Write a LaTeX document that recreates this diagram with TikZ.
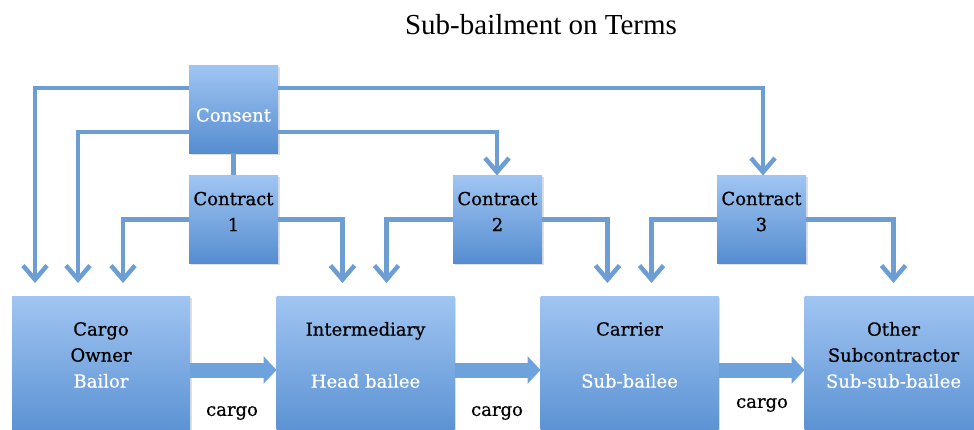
\documentclass[tikz,border=0pt]{standalone}
\usepackage{fontspec}
\setmainfont{DejaVu Serif}[RawFeature={embolden=0.7}]
\newfontfamily\titlefont{Liberation Serif}
\usetikzlibrary{arrows.meta,shadows,calc}
\definecolor{boxtop}{HTML}{A0C5F2}
\definecolor{boxbot}{HTML}{558DD0}
\definecolor{linec}{HTML}{6C9ED3}
\definecolor{cargoc}{HTML}{6EA2DC}
\tikzset{
  bbox/.style={draw=none, top color=boxtop, bottom color=boxbot,
    drop shadow={opacity=0.25, shadow xshift=1.5pt, shadow yshift=-1.5pt},
    inner sep=0pt, outer sep=0pt},
  smallbox/.style={bbox, minimum width=89pt, minimum height=88pt},
  bigbox/.style={bbox, minimum width=178pt, minimum height=148pt},
  btext/.style={font=\fontsize{18}{26}\selectfont, align=center, inner sep=0pt},
  conn/.style={draw=linec, line width=4.5pt,
    -{Straight Barb[length=14pt,width=24pt,line width=4.5pt]}},
  plainconn/.style={draw=linec, line width=4.5pt},
  cargoarrow/.style={draw=cargoc, line width=15pt,
    -{Triangle[length=13pt,width=27pt]}},
  lbl/.style={font=\fontsize{18}{22}\selectfont, inner sep=0pt}
}
\begin{document}
\begin{tikzpicture}[x=1pt,y=-1pt]
\useasboundingbox (0,0) rectangle (974,430);
\node[anchor=base, font=\titlefont\fontsize{29}{32}\selectfont] (title) at (541,35) {Sub-bailment on Terms};

% boxes
\node[smallbox] (cons) at (233.5,109.5) {};
\node[smallbox] (c1) at (233.5,219.5) {};
\node[smallbox] (c2) at (497.5,219.5) {};
\node[smallbox] (c3) at (761.5,219.5) {};
\node[bigbox] (co) at (101,370) {};
\node[bigbox] (im) at (365.5,370) {};
\node[bigbox] (ca) at (629.5,370) {};
\node[bigbox] (ot) at (893.5,370) {};

% connectors
\draw[conn] ([yshift=21.5pt]cons.west) -| ([xshift=23pt,yshift=13pt]co.north west);
\draw[conn] ([yshift=-22.5pt]cons.west) -| ([xshift=66pt,yshift=13pt]co.north west);
\draw[conn] ([yshift=21.5pt]cons.east) -| ([xshift=1.5pt]c3.north);
\draw[conn] ([yshift=-22.5pt]cons.east) -| ([xshift=-0.5pt]c2.north);
\draw[plainconn] (cons.south) -- (c1.north);
\draw[conn] (c1.west) -| ([xshift=111pt,yshift=13pt]co.north west);
\draw[conn] (c1.east) -| ([xshift=66pt,yshift=13pt]im.north west);
\draw[conn] (c2.west) -| ([xshift=110pt,yshift=13pt]im.north west);
\draw[conn] (c2.east) -| ([xshift=67pt,yshift=13pt]ca.north west);
\draw[conn] (c3.west) -| ([xshift=111pt,yshift=13pt]ca.north west);
\draw[conn] (c3.east) -| ([xshift=89pt,yshift=13pt]ot.north west);

% cargo arrows
\draw[cargoarrow] (co.east) -- (im.west);
\draw[cargoarrow] (im.east) -- (ca.west);
\draw[cargoarrow] (ca.east) -- (ot.west);

% texts
\node[btext, text=white] (tcons) at (233.5,115) {Consent};
\node[btext] (tc1) at (233.5,211.5) {Contract\\1};
\node[btext] (tc2) at (497.5,211.5) {Contract\\2};
\node[btext] (tc3) at (761.5,211.5) {Contract\\3};
\node[btext] (tco) at (101,355) {Cargo\\Owner\\\textcolor{white}{Bailor}};
\node[btext] (tim) at (365.5,355) {Intermediary\\\mbox{}\\\textcolor{white}{Head bailee}};
\node[btext] (tca) at (629.5,355) {Carrier\\\mbox{}\\\textcolor{white}{Sub-bailee}};
\node[btext] (tot) at (893.5,355) {Other\\Subcontractor\\\textcolor{white}{Sub-sub-bailee}};

\node[lbl] (l1) at (232,413) {cargo};
\node[lbl] (l2) at (497,413) {cargo};
\node[lbl] (l3) at (762,405) {cargo};
\end{tikzpicture}
\end{document}
